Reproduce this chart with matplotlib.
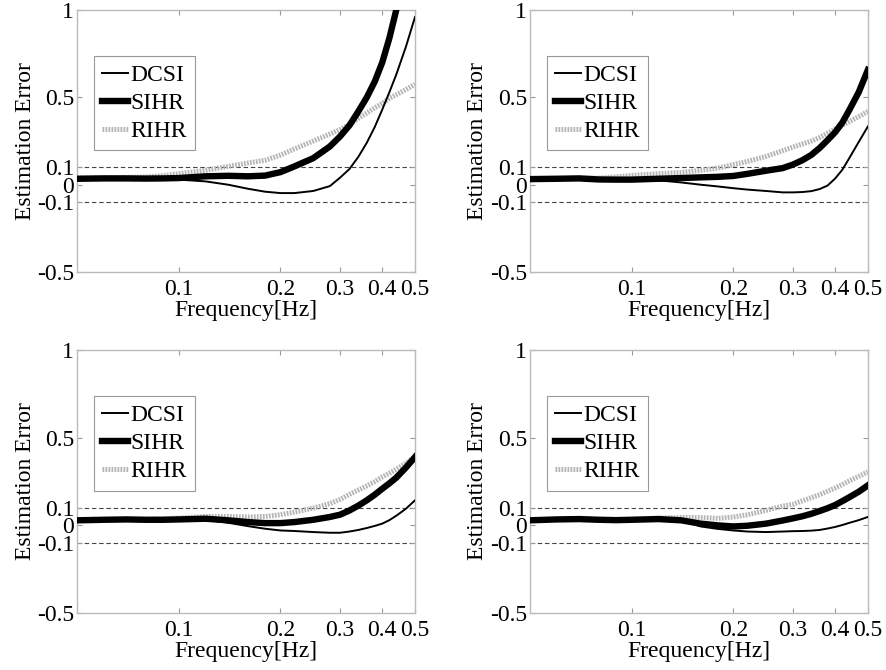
import numpy as np
import matplotlib.pyplot as plt

plt.rcParams['font.family'] = ['Liberation Serif', 'DejaVu Serif']
plt.rcParams['font.size'] = 17

freq = [0.05, 0.06, 0.07, 0.08, 0.09, 0.1, 0.12, 0.14, 0.16, 0.18, 0.2, 0.22,
        0.25, 0.28, 0.3, 0.32, 0.34, 0.36, 0.38, 0.4, 0.42, 0.44, 0.47, 0.5]

# Panel 1 (top left)
dcsi_1 = [0.038, 0.036, 0.034, 0.032, 0.030, 0.029, 0.019, 0.0, -0.023, -0.040, -0.048, -0.048,
          -0.036, -0.008, 0.04, 0.09, 0.16, 0.24, 0.33, 0.43, 0.53, 0.63, 0.79, 0.96]
sihr_1 = [0.034, 0.036, 0.036, 0.035, 0.036, 0.038, 0.048, 0.051, 0.048, 0.052, 0.072, 0.105,
          0.152, 0.219, 0.276, 0.34, 0.42, 0.50, 0.59, 0.70, 0.84, 1.0, 1.2, 1.4]
rihr_1 = [0.038, 0.040, 0.042, 0.044, 0.052, 0.063, 0.082, 0.105, 0.124, 0.14, 0.17, 0.205,
          0.25, 0.29, 0.315, 0.345, 0.38, 0.41, 0.44, 0.465, 0.495, 0.515, 0.545, 0.575]

# Panel 2 (top right)
dcsi_2 = [0.029, 0.032, 0.034, 0.032, 0.030, 0.029, 0.025, 0.013, 0.0, -0.01, -0.02, -0.028,
          -0.036, -0.044, -0.044, -0.042, -0.037, -0.025, -0.005, 0.035, 0.085, 0.15, 0.245, 0.333]
sihr_2 = [0.032, 0.034, 0.036, 0.030, 0.029, 0.029, 0.034, 0.038, 0.042, 0.045, 0.05, 0.062,
          0.08, 0.095, 0.115, 0.14, 0.17, 0.21, 0.255, 0.30, 0.355, 0.425, 0.53, 0.657]
rihr_2 = [0.032, 0.034, 0.036, 0.038, 0.045, 0.053, 0.063, 0.07, 0.082, 0.095, 0.115, 0.133,
          0.162, 0.195, 0.215, 0.233, 0.25, 0.27, 0.295, 0.318, 0.34, 0.36, 0.39, 0.419]

# Panel 3 (bottom left)
dcsi_3 = [0.029, 0.032, 0.034, 0.032, 0.032, 0.032, 0.032, 0.015, -0.004, -0.019, -0.029, -0.032,
          -0.038, -0.042, -0.042, -0.035, -0.026, -0.015, -0.003, 0.01, 0.03, 0.055, 0.095, 0.143]
sihr_3 = [0.029, 0.032, 0.034, 0.032, 0.032, 0.034, 0.038, 0.029, 0.019, 0.013, 0.013, 0.019,
          0.032, 0.048, 0.061, 0.085, 0.113, 0.143, 0.175, 0.209, 0.24, 0.272, 0.33, 0.39]
rihr_3 = [0.029, 0.032, 0.034, 0.034, 0.038, 0.042, 0.051, 0.051, 0.048, 0.051, 0.061, 0.076,
          0.099, 0.124, 0.148, 0.177, 0.202, 0.225, 0.25, 0.276, 0.298, 0.32, 0.355, 0.39]

# Panel 4 (bottom right)
dcsi_4 = [0.025, 0.034, 0.038, 0.032, 0.029, 0.029, 0.038, 0.029, -0.006, -0.02, -0.029, -0.035,
          -0.038, -0.035, -0.033, -0.032, -0.03, -0.026, -0.018, -0.009, 0.002, 0.014, 0.03, 0.048]
sihr_4 = [0.029, 0.034, 0.036, 0.032, 0.030, 0.032, 0.036, 0.029, 0.01, 0.0, -0.006, -0.002,
          0.01, 0.028, 0.04, 0.052, 0.066, 0.082, 0.098, 0.116, 0.138, 0.16, 0.192, 0.228]
rihr_4 = [0.029, 0.034, 0.036, 0.032, 0.032, 0.034, 0.042, 0.045, 0.045, 0.04, 0.048, 0.06,
          0.086, 0.11, 0.12, 0.14, 0.158, 0.175, 0.195, 0.213, 0.233, 0.253, 0.28, 0.305]

panels = [(dcsi_1, sihr_1, rihr_1), (dcsi_2, sihr_2, rihr_2),
          (dcsi_3, sihr_3, rihr_3), (dcsi_4, sihr_4, rihr_4)]

xticks = [0.1, 0.2, 0.3, 0.4, 0.5]
xticklabels = ['0.1', '0.2', '0.3', '0.4', '0.5']
yticks = [-0.5, -0.1, 0, 0.1, 0.5, 1]
yticklabels = ['-0.5', '-0.1', '0', '0.1', '0.5', '1']

fig = plt.figure(figsize=(8.86, 6.70), dpi=100)
positions = [[0.0869, 0.594, 0.3815, 0.391], [0.598, 0.594, 0.3815, 0.391],
             [0.0869, 0.085, 0.3815, 0.3925], [0.598, 0.085, 0.3815, 0.3925]]

for pos, (dcsi, sihr, rihr) in zip(positions, panels):
    ax = fig.add_axes(pos)
    ax.axhline(0.1, color='#444444', lw=0.8, ls=(0, (4, 2.5)), zorder=1)
    ax.axhline(-0.1, color='#444444', lw=0.8, ls=(0, (4, 2.5)), zorder=1)
    ax.plot(freq, rihr, color='#b4b4b4', lw=3.6, ls=(0, (0.35, 0.25)), label='RIHR', zorder=2)
    ax.plot(freq, sihr, color='black', lw=4.6, label='SIHR', zorder=3,
            solid_joinstyle='round')
    ax.plot(freq, dcsi, color='black', lw=1.4, label='DCSI', zorder=4,
            solid_joinstyle='round')
    ax.set_xscale('log')
    ax.set_xlim(0.05, 0.5)
    ax.set_ylim(-0.5, 1)
    ax.set_xticks(xticks)
    ax.set_xticklabels(xticklabels)
    ax.xaxis.set_minor_locator(plt.NullLocator())
    ax.set_yticks(yticks)
    ax.set_yticklabels(yticklabels)
    ax.tick_params(direction='in', length=3.5, color='#999999', top=True, right=True)
    ax.tick_params(axis='x', pad=5)
    ax.tick_params(axis='y', pad=2)
    for s in ax.spines.values():
        s.set_color('#bbbbbb')
        s.set_linewidth(1.0)
    ax.set_xlabel('Frequency[Hz]', labelpad=0)
    ax.set_ylabel('Estimation Error', labelpad=1)
    h, l = ax.get_legend_handles_labels()
    leg = ax.legend([h[2], h[1], h[0]], [l[2], l[1], l[0]], loc='upper left',
                    bbox_to_anchor=(0.05, 0.824), borderaxespad=0, fancybox=False,
                    framealpha=1, edgecolor='#999999', handlelength=1.1,
                    handletextpad=0.1, labelspacing=0.28, borderpad=0.35)
    leg.get_frame().set_linewidth(0.8)

fig.savefig('out.png', dpi=100)
